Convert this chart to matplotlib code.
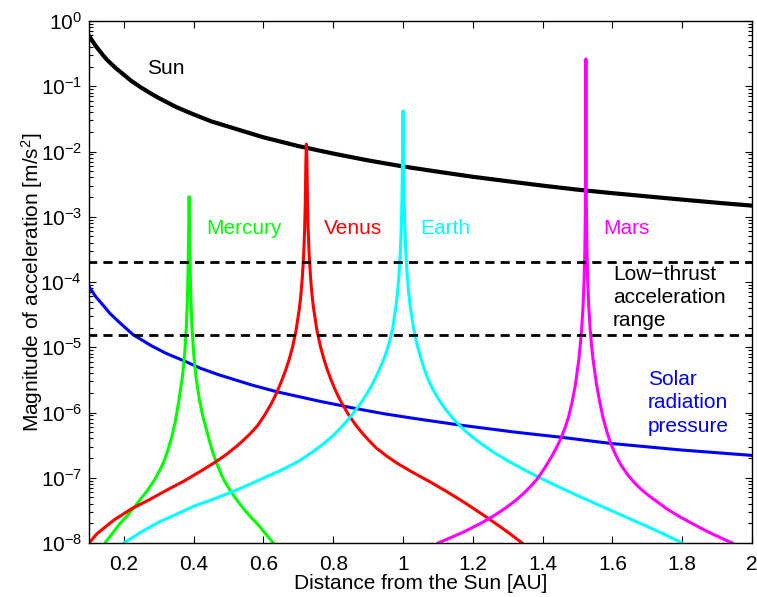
import numpy as np
import matplotlib
matplotlib.use("Agg")
import matplotlib.pyplot as plt
from matplotlib.ticker import (FixedLocator, FuncFormatter, NullFormatter,
                               LogFormatterSciNotation)

plt.rcParams['font.family'] = ['Liberation Sans', 'DejaVu Sans']
plt.rcParams['mathtext.fontset'] = 'custom'
plt.rcParams['mathtext.rm'] = 'Liberation Sans'
plt.rcParams['mathtext.it'] = 'Liberation Sans:italic'

# Distance from the Sun [AU] and acceleration magnitude [m/s^2]
sun_x = [0.1, 0.105, 0.11, 0.115, 0.12, 0.13, 0.14, 0.15, 0.16, 0.18, 0.2,
         0.22, 0.25, 0.28, 0.3, 0.35, 0.4, 0.45, 0.5, 0.6, 0.7, 0.8, 0.9,
         1.0, 1.1, 1.2, 1.3, 1.4, 1.5, 1.6, 1.7, 1.8, 1.9, 2.0]
sun_y = [0.59, 0.54, 0.49, 0.45, 0.41, 0.35, 0.30, 0.26, 0.23, 0.183, 0.15,
         0.122, 0.095, 0.076, 0.066, 0.048, 0.037, 0.029, 0.024, 0.0165,
         0.0121, 0.0093, 0.0073, 0.0059, 0.0049, 0.0041, 0.0035, 0.0030,
         0.0026, 0.0023, 0.00205, 0.00183, 0.00164, 0.00148]

srp_x = [0.1, 0.12, 0.1359, 0.16, 0.1837, 0.2268, 0.2794, 0.32, 0.3751, 0.42,
         0.4708, 0.5664, 0.6382, 0.7578, 0.8678, 0.9491, 1.0328, 1.162,
         1.3198, 1.4538, 1.5925, 1.7982, 2.0]
srp_y = [8.51e-5, 5.9e-5, 4.70e-5, 3.3e-5, 2.50e-5, 1.55e-5, 1.05e-5, 8.1e-6,
         6.1e-6, 4.75e-6, 3.8e-6, 2.64e-6, 2.08e-6, 1.50e-6, 1.14e-6, 9.5e-7,
         8.1e-7, 6.43e-7, 5.01e-7, 4.17e-7, 3.37e-7, 2.66e-7, 2.20e-7]

mercury_x = [0.1455, 0.167, 0.187, 0.207, 0.227, 0.247, 0.267, 0.287, 0.297,
             0.307, 0.317, 0.327, 0.337, 0.347, 0.357, 0.367, 0.371, 0.375,
             0.379, 0.382, 0.384, 0.3855, 0.387,
             0.3885, 0.390, 0.392, 0.395, 0.399, 0.403, 0.407, 0.417, 0.427,
             0.437, 0.447, 0.457, 0.467, 0.477, 0.487, 0.507, 0.527, 0.547,
             0.567, 0.587, 0.607, 0.6286]
mercury_y = [1.0e-8, 1.40e-8, 1.94e-8, 2.53e-8, 3.38e-8, 4.66e-8, 6.34e-8,
             9.12e-8, 1.135e-7, 1.45e-7, 1.91e-7, 2.75e-7, 4.19e-7, 7.11e-7,
             1.47e-6, 3.30e-6, 5.15e-6, 9.16e-6, 2.06e-5, 5.27e-5, 1.47e-4,
             5.86e-4, 2.03e-3,
             6.0e-4, 1.50e-4, 5.40e-5, 2.11e-5, 9.38e-6, 5.27e-6, 3.37e-6,
             1.50e-6, 8.43e-7, 5.40e-7, 3.38e-7, 2.24e-7, 1.61e-7, 1.20e-7,
             9.12e-8, 6.08e-8, 4.30e-8, 3.16e-8, 2.39e-8, 1.85e-8, 1.36e-8,
             1.0e-8]

venus_x = [0.1, 0.123, 0.173, 0.223, 0.273, 0.323, 0.373, 0.423, 0.463,
           0.493, 0.523, 0.543, 0.563, 0.583, 0.603, 0.623, 0.633, 0.643,
           0.653, 0.663, 0.673, 0.683, 0.693, 0.703, 0.707, 0.711, 0.715,
           0.718, 0.720, 0.7215, 0.723,
           0.7245, 0.726, 0.728, 0.731, 0.735, 0.739, 0.743, 0.753, 0.763,
           0.773, 0.783, 0.793, 0.803, 0.813, 0.823, 0.843, 0.863, 0.883,
           0.903, 0.923, 0.953, 0.983, 1.023, 1.073, 1.123, 1.173, 1.223,
           1.273, 1.303, 1.341]
venus_y = [1.0e-8, 1.39e-8, 2.28e-8, 3.37e-8, 4.61e-8, 6.47e-8, 8.95e-8,
           1.29e-7, 1.75e-7, 2.26e-7, 3.04e-7, 3.78e-7, 4.79e-7, 6.28e-7,
           9.06e-7, 1.38e-6, 1.77e-6, 2.33e-6, 3.16e-6, 4.36e-6, 6.34e-6,
           9.91e-6, 1.76e-5, 3.96e-5, 6.19e-5, 1.10e-4, 2.48e-4, 6.34e-4,
           1.76e-3, 7.05e-3, 1.30e-2,
           7.38e-3, 1.85e-3, 6.64e-4, 2.59e-4, 1.15e-4, 6.49e-5, 4.15e-5,
           1.85e-5, 1.04e-5, 6.64e-6, 4.51e-6, 3.24e-6, 2.39e-6, 1.83e-6,
           1.43e-6, 9.42e-7, 6.58e-7, 4.84e-7, 3.69e-7, 2.87e-7, 2.15e-7,
           1.67e-7, 1.25e-7, 8.91e-8, 6.24e-8, 4.27e-8, 2.85e-8, 1.86e-8,
           1.43e-8, 1.0e-8]

earth_x = [0.20, 0.25, 0.30, 0.35, 0.40, 0.45, 0.50, 0.55, 0.60, 0.65, 0.70,
           0.74, 0.77, 0.80, 0.82, 0.84, 0.86, 0.88, 0.90, 0.91, 0.92, 0.93,
           0.94, 0.95, 0.96, 0.97, 0.98, 0.984, 0.988, 0.992, 0.995, 0.997,
           0.9985, 0.9992, 1.0,
           1.0008, 1.0015, 1.003, 1.005, 1.008, 1.012, 1.016, 1.02, 1.03,
           1.04, 1.05, 1.06, 1.07, 1.08, 1.09, 1.10, 1.12, 1.14, 1.16, 1.18,
           1.20, 1.23, 1.26, 1.30, 1.35, 1.40, 1.45, 1.50, 1.55, 1.60, 1.65,
           1.70, 1.75, 1.80]
earth_y = [1.0e-8, 1.48e-8, 2.09e-8, 2.75e-8, 3.66e-8, 4.56e-8, 5.78e-8,
           7.48e-8, 9.91e-8, 1.30e-7, 1.78e-7, 2.47e-7, 3.25e-7, 4.45e-7,
           5.71e-7, 7.50e-7, 1.02e-6, 1.42e-6, 2.09e-6, 2.59e-6, 3.29e-6,
           4.32e-6, 5.68e-6, 7.80e-6, 1.15e-5, 1.93e-5, 4.35e-5, 6.79e-5,
           1.21e-4, 2.72e-4, 6.95e-4, 1.93e-3, 7.73e-3, 2.72e-2, 4.18e-2,
           2.78e-2, 7.91e-3, 1.98e-3, 7.11e-4, 2.78e-4, 1.24e-4, 6.95e-5,
           4.45e-5, 1.98e-5, 1.11e-5, 7.11e-6, 4.78e-6, 3.39e-6, 2.59e-6,
           2.05e-6, 1.66e-6, 1.15e-6, 8.47e-7, 6.49e-7, 5.13e-7, 4.15e-7,
           3.15e-7, 2.45e-7, 1.82e-7, 1.30e-7, 9.50e-8, 7.08e-8, 5.34e-8,
           4.05e-8, 3.08e-8, 2.35e-8, 1.79e-8, 1.35e-8, 1.0e-8]

mars_x = [1.100, 1.124, 1.174, 1.224, 1.264, 1.294, 1.324, 1.344, 1.364,
          1.384, 1.404, 1.424, 1.434, 1.444, 1.454, 1.464, 1.474, 1.484,
          1.494, 1.504, 1.508, 1.512, 1.516, 1.519, 1.521, 1.5225, 1.5235,
          1.5238, 1.524,
          1.5242, 1.5245, 1.5255, 1.527, 1.529, 1.532, 1.536, 1.540, 1.544,
          1.554, 1.564, 1.574, 1.584, 1.594, 1.604, 1.614, 1.624, 1.644,
          1.664, 1.684, 1.704, 1.724, 1.754, 1.784, 1.824, 1.874, 1.924,
          1.944]
mars_y = [1.0e-8, 1.13e-8, 1.48e-8, 2.02e-8, 2.69e-8, 3.44e-8, 4.55e-8,
          5.66e-8, 7.23e-8, 9.51e-8, 1.36e-7, 2.04e-7, 2.54e-7, 3.21e-7,
          4.22e-7, 5.77e-7, 8.36e-7, 1.40e-6, 2.67e-6, 6.65e-6, 1.10e-5,
          1.96e-5, 4.41e-5, 1.13e-4, 3.13e-4, 1.25e-3, 1.13e-2, 7.05e-2,
          0.262,
          7.05e-2, 1.13e-2, 1.25e-3, 3.13e-4, 1.13e-4, 4.41e-5, 1.96e-5,
          1.10e-5, 6.81e-6, 2.79e-6, 1.42e-6, 7.98e-7, 5.12e-7, 3.47e-7,
          2.59e-7, 2.00e-7, 1.58e-7, 1.11e-7, 8.28e-8, 6.53e-8, 5.33e-8,
          4.45e-8, 3.39e-8, 2.69e-8, 2.05e-8, 1.48e-8, 1.11e-8, 1.0e-8]

thrust_bounds = [2.0e-4, 1.54e-5]

x_ticks = [0.2, 0.4, 0.6, 0.8, 1.0, 1.2, 1.4, 1.6, 1.8, 2.0]
y_decades = list(range(-8, 1))

fig = plt.figure(figsize=(7.57, 5.97), dpi=100)
ax = fig.add_axes([89 / 757, 1 - 543 / 597, (752 - 89) / 757, (543 - 21) / 597])

lw = 2.2
ax.plot(sun_x, sun_y, color='black', lw=3.0)
ax.plot(srp_x, srp_y, color='#0000ff', lw=lw)
ax.plot(mercury_x, mercury_y, color='#00ff00', lw=lw)
ax.plot(venus_x, venus_y, color='#ff0000', lw=lw)
ax.plot(earth_x, earth_y, color='#00ffff', lw=lw)
ax.plot(mars_x, mars_y, color='#ff00ff', lw=lw)
for yb in thrust_bounds:
    ax.plot([0.1, 2.0], [yb, yb], color='black', lw=2.0,
            linestyle=(0.5, (3.3, 2.2)))

ax.set_yscale('log')
ax.set_xlim(0.1, 2.0)
ax.set_ylim(1e-8, 1e0)

ax.xaxis.set_major_locator(FixedLocator(x_ticks))
ax.xaxis.set_major_formatter(FuncFormatter(lambda v, p: '%g' % v))
major_y = [10.0 ** k for k in y_decades]
minor_y = [m * 10.0 ** k for k in y_decades[:-1] for m in range(2, 10)]
ax.yaxis.set_major_locator(FixedLocator(major_y))
ax.yaxis.set_major_formatter(LogFormatterSciNotation())
ax.yaxis.set_minor_locator(FixedLocator(minor_y))
ax.yaxis.set_minor_formatter(NullFormatter())

fs = 15
ax.tick_params(which='both', direction='in', top=True, right=True,
               labelsize=fs, width=0.8, colors='black')
ax.tick_params(which='major', length=5)
ax.tick_params(which='minor', length=3)
ax.tick_params(axis='x', which='major', pad=8.5)
ax.tick_params(axis='y', which='major', pad=5)
for s in ax.spines.values():
    s.set_linewidth(1.0)

ax.set_xlabel('Distance from the Sun [AU]', fontsize=fs, labelpad=0)
ax.set_ylabel('Magnitude of acceleration [m/s$^2$]', fontsize=fs, labelpad=-3)

tr = ax.transAxes
ax.text(0.1161, 0.8985, 'Sun', fontsize=fs, ha='center', va='baseline', transform=tr)
ax.text(0.2342, 0.592, 'Mercury', fontsize=fs, ha='center', va='baseline',
        color='#00ff00', transform=tr)
ax.text(0.3979, 0.592, 'Venus', fontsize=fs, ha='center', va='baseline',
        color='#ff0000', transform=tr)
ax.text(0.5373, 0.592, 'Earth', fontsize=fs, ha='center', va='baseline',
        color='#00ffff', transform=tr)
ax.text(0.8100, 0.592, 'Mars', fontsize=fs, ha='center', va='baseline',
        color='#ff00ff', transform=tr)
for line, fy in zip(['Low\u2212thrust', 'acceleration', 'range'],
                    [0.5038, 0.4592, 0.4148]):
    ax.text(0.7903, fy, line, fontsize=fs, ha='left', va='baseline', transform=tr)
for line, fy in zip(['Solar', 'radiation', 'pressure'],
                    [0.3027, 0.2580, 0.2132]):
    ax.text(0.8427, fy, line, fontsize=fs, ha='left', va='baseline',
            color='#0000ff', transform=tr)

fig.savefig('out.png', dpi=100)
